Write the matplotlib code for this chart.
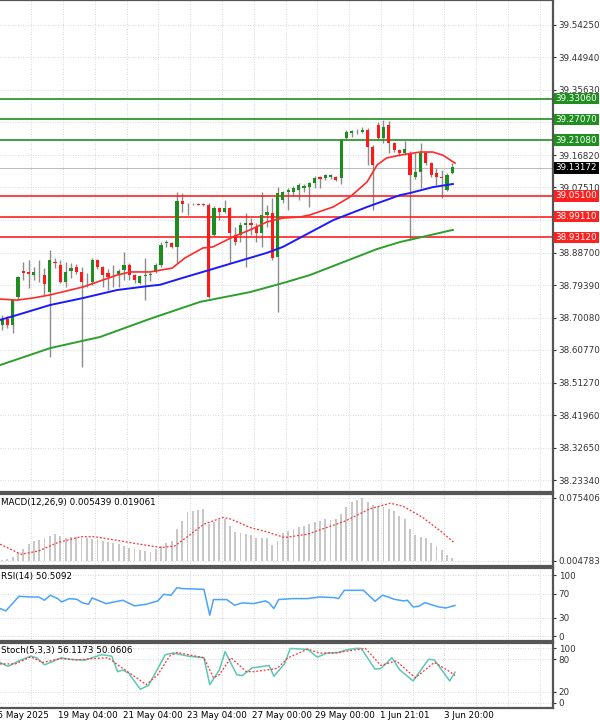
import matplotlib
matplotlib.use("Agg")
import matplotlib.pyplot as plt
import numpy as np

# candles: open, high, low, close
opens = [38.679, 38.697, 38.679, 38.760, 38.834, 38.831, 38.823, 38.830, 38.823, 38.774,
         38.860, 38.852, 38.803, 38.835, 38.846, 38.832, 38.803, 38.803, 38.866, 38.846,
         38.829, 38.823, 38.826, 38.838, 38.852, 38.823, 38.800, 38.820, 38.823, 38.832,
         38.852, 38.915, 38.915, 38.904, 39.036, 39.028, 39.028, 39.028, 39.028, 39.025,
         38.938, 39.016, 39.004, 39.016, 38.938, 38.938, 38.967, 38.973, 38.961, 38.944,
         38.996, 39.002, 38.875, 39.039, 39.062, 39.062, 39.068, 39.074, 39.076, 39.088,
         39.105, 39.102, 39.105, 39.105, 39.102, 39.217, 39.232, 39.237, 39.235, 39.240,
         39.192, 39.255, 39.217, 39.255, 39.203, 39.183, 39.174, 39.174, 39.105, 39.120,
         39.174, 39.146, 39.117, 39.105, 39.068, 39.117]
highs = [38.708, 38.705, 38.755, 38.821, 38.861, 38.866, 38.846, 38.866, 38.843, 38.895,
         38.872, 38.866, 38.861, 38.858, 38.855, 38.846, 38.829, 38.872, 38.869, 38.850,
         38.840, 38.852, 38.840, 38.888, 38.858, 38.826, 38.823, 38.872, 38.832, 38.858,
         38.918, 38.924, 38.918, 39.062, 39.059, 39.031, 39.030, 39.030, 39.030, 39.030,
         39.022, 39.019, 39.039, 39.019, 38.961, 38.976, 39.002, 38.987, 38.973, 39.062,
         39.025, 39.045, 39.076, 39.065, 39.074, 39.079, 39.088, 39.085, 39.091, 39.108,
         39.108, 39.114, 39.114, 39.108, 39.215, 39.240, 39.240, 39.243, 39.250, 39.246,
         39.197, 39.263, 39.269, 39.266, 39.206, 39.186, 39.209, 39.180, 39.174, 39.203,
         39.180, 39.149, 39.131, 39.125, 39.117, 39.146]
lows = [38.665, 38.670, 38.656, 38.751, 38.809, 38.786, 38.809, 38.803, 38.766, 38.587,
        38.843, 38.800, 38.789, 38.815, 38.826, 38.559, 38.789, 38.795, 38.840, 38.789,
        38.780, 38.789, 38.789, 38.809, 38.809, 38.800, 38.797, 38.751, 38.806, 38.829,
        38.846, 38.904, 38.901, 38.858, 39.004, 38.996, 39.024, 39.024, 39.022, 38.757,
        38.935, 38.982, 39.001, 38.858, 38.910, 38.918, 38.846, 38.938, 38.918, 38.904,
        38.961, 38.866, 38.717, 39.030, 39.010, 39.050, 39.040, 39.062, 39.019, 39.074,
        39.074, 39.096, 39.099, 39.093, 39.085, 39.212, 39.220, 39.230, 39.232, 39.140,
        39.010, 39.212, 39.203, 39.174, 39.177, 39.165, 39.168, 38.924, 39.100, 39.074,
        39.140, 39.105, 39.082, 39.045, 39.065, 39.114]
closes = [38.694, 38.679, 38.751, 38.818, 38.829, 38.827, 38.832, 38.828, 38.797, 38.866,
          38.857, 38.803, 38.832, 38.843, 38.832, 38.803, 38.802, 38.866, 38.846, 38.823,
          38.818, 38.822, 38.835, 38.852, 38.823, 38.809, 38.820, 38.822, 38.825, 38.852,
          38.910, 38.918, 38.904, 39.036, 39.028, 39.027, 39.027, 39.026, 39.025, 38.760,
          39.016, 39.005, 39.016, 38.944, 38.918, 38.967, 38.973, 38.967, 38.944, 38.996,
          39.005, 38.872, 39.059, 39.062, 39.068, 39.074, 39.082, 39.079, 39.088, 39.102,
          39.099, 39.111, 39.111, 39.096, 39.212, 39.235, 39.238, 39.238, 39.240, 39.192,
          39.140, 39.217, 39.249, 39.203, 39.183, 39.174, 39.186, 39.111, 39.120, 39.174,
          39.146, 39.111, 39.105, 39.102, 39.111, 39.134]

# moving averages (candle index, price)
ma_red_x = [-0.4, 2.8, 5.8, 9.1, 15.3, 21.7, 24.2, 27.9, 32.1, 34.5, 37.9, 39.8, 43.6, 46.8,
            50, 53, 56.2, 58.1, 62.5, 65.7, 68.9, 70.8, 72.6, 75.1, 78.9, 81.3, 83.2, 85.5]
ma_red = [38.754, 38.751, 38.757, 38.766, 38.789, 38.823, 38.832, 38.832, 38.843, 38.872,
          38.901, 38.904, 38.933, 38.953, 38.976, 38.987, 38.990, 38.996, 39.019, 39.048,
          39.091, 39.140, 39.160, 39.168, 39.177, 39.177, 39.168, 39.145]
ma_blue_x = [-0.4, 2.8, 9.1, 15.3, 21.7, 27.9, 29.8, 34.1, 39.2, 43.6, 50, 53, 56.2, 62.5,
             68.9, 75.1, 77, 81.3, 85.1]
ma_blue = [38.694, 38.708, 38.737, 38.757, 38.780, 38.792, 38.795, 38.815, 38.838, 38.858,
           38.887, 38.904, 38.930, 38.981, 39.019, 39.053, 39.059, 39.076, 39.085]
ma_green_x = [-0.4, 9.1, 18.5, 27.9, 37.4, 46.8, 53, 58.1, 70.8, 75.1, 85.1]
ma_green = [38.564, 38.613, 38.645, 38.697, 38.746, 38.774, 38.800, 38.823, 38.898, 38.918,
            38.953]

resist = [39.33060, 39.27070, 39.21080]
support = [39.05100, 38.99110, 38.93120]
last_price = 39.13172
price_ticks = [39.54250, 39.44940, 39.35630, 39.16820, 39.07510,
               38.88700, 38.79390, 38.70080, 38.60770, 38.51270, 38.41960, 38.32650, 38.23340]
hidden_grid = [39.26210, 38.98200]

macd_hist = [0.001, 0.002, 0.005, 0.010, 0.014, 0.020, 0.024, 0.025, 0.027, 0.030,
             0.032, 0.030, 0.028, 0.029, 0.029, 0.028, 0.027, 0.026, 0.026, 0.024,
             0.023, 0.021, 0.020, 0.018, 0.016, 0.014, 0.013, 0.012, 0.011, 0.014,
             0.018, 0.022, 0.024, 0.038, 0.048, 0.058, 0.060, 0.061, 0.062, 0.044,
             0.046, 0.049, 0.050, 0.042, 0.035, 0.033, 0.032, 0.031, 0.028, 0.028,
             0.028, 0.019, 0.024, 0.033, 0.036, 0.038, 0.040, 0.042, 0.044, 0.046,
             0.048, 0.050, 0.049, 0.050, 0.056, 0.065, 0.070, 0.073, 0.075, 0.071,
             0.067, 0.066, 0.064, 0.062, 0.060, 0.054, 0.050, 0.038, 0.031, 0.029,
             0.027, 0.022, 0.018, 0.013, 0.007, 0.004]
macd_sig_x = [-0.4, 3.6, 6.9, 10.5, 14.9, 17.4, 21.4, 25, 30.1, 32.6, 35.2, 38.1, 41.7,
              43.2, 46.8, 50.4, 53.3, 57.7, 61.3, 64.9, 69.3, 73.3, 75.8, 79.4, 83.1, 85.3]
macd_sig = [0.020, 0.008, 0.012, 0.022, 0.029, 0.029, 0.025, 0.021, 0.016, 0.018, 0.030,
            0.044, 0.052, 0.050, 0.040, 0.034, 0.028, 0.032, 0.040, 0.048, 0.062, 0.069,
            0.065, 0.052, 0.034, 0.022]

rsi_x = [-0.4, 0.7, 3.2, 5.4, 6.9, 8.0, 9.1, 10.5, 11.2, 12.7, 14.1, 15.2, 16.3, 17.0,
         19.6, 22.8, 25.0, 27.2, 29.4, 30.5, 31.9, 33.0, 34.1, 38.1, 39.2, 39.9, 42.4,
         43.9, 45.3, 47.5, 49.7, 50.4, 51.3, 52.2, 54.8, 57.7, 59.9, 62.8, 63.5, 64.6,
         68.2, 70.4, 71.8, 72.9, 74.0, 75.8, 76.5, 77.6, 78.7, 79.8, 82.4, 83.8, 85.5]
rsi = [45.3, 41.5, 65.5, 64.4, 64.4, 59.0, 67.2, 61.7, 56.2, 61.7, 60.6, 54.6, 52.4, 62.8,
       53.5, 59.0, 49.7, 52.4, 57.9, 68.8, 67.2, 79.7, 78.1, 77.0, 34.4, 60.1, 60.1,
       50.8, 54.6, 53.5, 57.9, 54.6, 45.3, 60.1, 61.7, 61.7, 64.4, 63.3, 61.7, 75.3,
       75.3, 57.3, 67.2, 64.4, 60.6, 57.9, 59.0, 48.0, 49.1, 55.1, 48.0, 46.4, 50.5]

stoch_x = [-0.4, 1.1, 3.2, 5.4, 6.5, 8.0, 9.4, 11.2, 12.7, 15.6, 17.0, 18.8, 20.7, 21.8,
           22.8, 23.9, 26.1, 27.6, 29.4, 30.8, 32.3, 35.2, 38.1, 39.2, 41.0, 42.1, 44.3,
           45.3, 47.2, 50.4, 51.3, 53.3, 54.4, 57.7, 59.5, 61.3, 63.5, 64.9, 66.7, 67.8,
           70.4, 71.5, 73.6, 75.1, 77.6, 80.5, 81.6, 84.5, 85.5]
stoch_k = [74.2, 66.8, 77.1, 85.7, 82.8, 69.7, 75.4, 82.8, 79.9, 78.2, 82.8, 88.5, 85.7,
           57.1, 60.0, 54.2, 24.6, 31.4, 62.8, 88.5, 91.4, 85.7, 82.8, 33.1, 60.0, 94.2,
           51.4, 49.7, 64.0, 68.5, 48.5, 71.4, 99.9, 98.2, 83.9, 91.4, 92.5, 97.1, 100,
           100, 61.7, 62.8, 82.8, 60.0, 40.0, 79.9, 78.8, 40.0, 56.1]
stoch_d_x = [-0.4, 2.5, 5.4, 7.6, 11.2, 14.1, 17.0, 20.0, 22.8, 25.4, 27.2, 29.4, 31.6,
             33.0, 36.6, 38.1, 39.9, 41.0, 43.2, 46.1, 47.5, 51.9, 54.0, 57.7, 59.9, 62.8,
             66.4, 68.6, 71.5, 74.4, 78.0, 81.6, 84.5, 85.5]
stoch_d = [71.4, 71.4, 84.5, 74.2, 81.1, 78.8, 81.1, 82.8, 62.8, 45.7, 33.1, 51.4, 85.7,
           92.5, 85.7, 82.8, 45.7, 51.4, 82.8, 57.1, 57.1, 62.8, 82.8, 98.8, 91.4, 91.4,
           97.1, 99.9, 68.5, 77.1, 45.7, 74.2, 57.1, 50.1]

date_ticks = [-2.0, 10.6, 22.8, 34.9, 47.2, 59.0, 71.3, 83.4]
date_labels = ["15 May 2025", "19 May 04:00", "21 May 04:00", "23 May 04:00",
               "27 May 00:00", "29 May 00:00", "1 Jun 21:01", "3 Jun 20:00"]

GREEN = "#1e8c1e"
RED = "#ff1a1a"
FS = 6.3
plt.rcParams["font.family"] = "DejaVu Sans"

fig = plt.figure(figsize=(6, 7.2), dpi=100)
right = 553 / 600


def panel(top_px, bottom_px):
    ax = fig.add_axes([0, 1 - bottom_px / 720, right, (bottom_px - top_px) / 720])
    ax.set_xlim(-0.4, 104)
    ax.yaxis.tick_right()
    ax.tick_params(axis="y", labelsize=FS, length=2, pad=2, colors="#333333")
    ax.tick_params(axis="x", length=0, labelbottom=False)
    for s in ax.spines.values():
        s.set_color("#555555")
        s.set_linewidth(1.6)
    ax.spines["left"].set_visible(False)
    ax.set_xticks(np.arange(5.5, 104, 6))
    ax.grid(True, color="#cccccc", linestyle=(0, (1, 2)), linewidth=0.6)
    return ax


def tag(ax, v, fc):
    ax.annotate(f"{v:.5f}", (1.005, v), xycoords=("axes fraction", "data"), fontsize=FS,
                color="white", va="center", ha="left", annotation_clip=False,
                bbox=dict(boxstyle="square,pad=0.15", fc=fc, ec="none"))


idx = np.arange(len(opens))
o, h, l, c = map(np.asarray, (opens, highs, lows, closes))

# main price panel
ax = panel(0, 492)
ax.set_ylim(38.1989, 39.6144)
ax.set_yticks(price_ticks)
ax.set_yticklabels([f"{v:.5f}" for v in price_ticks])
for v in hidden_grid:
    ax.axhline(v, color="#cccccc", linestyle=(0, (1, 2)), linewidth=0.6, zorder=0)
ax.vlines(idx, l, h, color="#8c8c8c", linewidth=1.0, zorder=2)
up = c >= o
ax.bar(idx[up], (c - o)[up], bottom=o[up], width=0.6, color=GREEN, zorder=3)
ax.bar(idx[~up], (o - c)[~up], bottom=c[~up], width=0.6, color=RED, zorder=3)
ax.plot(ma_green_x, ma_green, color="#2ca02c", lw=1.4, zorder=4)
ax.plot(ma_blue_x, ma_blue, color="#1a1aff", lw=1.4, zorder=4)
ax.plot(ma_red_x, ma_red, color="#ff2a2a", lw=1.2, zorder=4)
for v in resist:
    ax.axhline(v, color="#1f8f1f", lw=1.2, zorder=2)
    tag(ax, v, "#1f8f1f")
for v in support:
    ax.axhline(v, color="#ff2020", lw=1.2, zorder=2)
    tag(ax, v, "#ff2020")
ax.axhline(last_price, color="#bbbbbb", lw=0.7, zorder=1)
tag(ax, last_price, "black")

# MACD
ax = panel(494, 566)
ax.set_ylim(-0.006, 0.080)
ax.set_yticks([0.075406, 0.0])
ax.set_yticklabels(["0.075406", "0.004783"])
ax.bar(idx, macd_hist, width=0.35, color="#c8c8c8")
ax.plot(macd_sig_x, macd_sig, color="#ff3030", lw=0.9, linestyle=(0, (1.5, 1.5)))
ax.text(0.002, 0.95, "MACD(12,26,9) 0.005439 0.019061", transform=ax.transAxes,
        fontsize=FS, va="top", ha="left")

# RSI
ax = panel(568, 641)
ax.set_ylim(-8, 112)
ax.set_yticks([100, 70, 30, 0])
ax.plot(rsi_x, rsi, color="#4aa3ff", lw=1.1)
ax.text(0.002, 0.95, "RSI(14) 50.5092", transform=ax.transAxes, fontsize=FS,
        va="top", ha="left")

# Stochastic
ax = panel(643, 708)
ax.set_ylim(-10, 110)
ax.set_yticks([100, 80, 20, 0])
ax.plot(stoch_x, stoch_k, color="#5cc8b5", lw=1.1)
ax.plot(stoch_d_x, stoch_d, color="#ff3030", lw=0.9, linestyle=(0, (1.5, 1.5)))
ax.text(0.002, 0.95, "Stoch(5,3,3) 56.1173 50.0606", transform=ax.transAxes,
        fontsize=FS, va="top", ha="left")
for t, lab in zip(date_ticks, date_labels):
    ax.annotate(lab, (t, 0), xycoords=("data", "axes fraction"), xytext=(0, -2),
                textcoords="offset points", fontsize=FS, ha="left", va="top",
                annotation_clip=False)

fig.savefig("out.png", dpi=100)
